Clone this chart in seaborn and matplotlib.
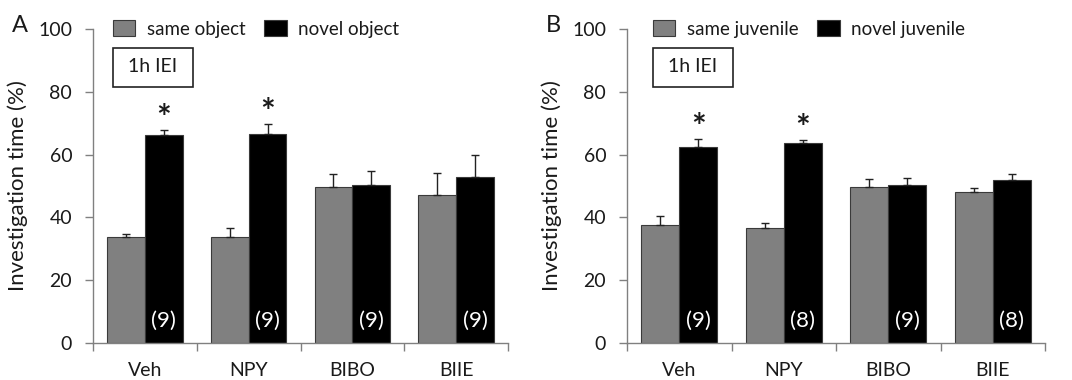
import numpy as np
import pandas as pd
import matplotlib
matplotlib.use("Agg")
import matplotlib.pyplot as plt
import seaborn as sns
from matplotlib.patches import Patch, Rectangle

# ---- data ----
categories = ["Veh", "NPY", "BIBO", "BIIE"]

a_hue = ["same object", "novel object"]
a_same = [33.8, 33.8, 49.7, 47.1]
a_same_err = [1.0, 2.9, 4.1, 6.9]
a_novel = [66.3, 66.7, 50.4, 52.9]
a_novel_err = [1.4, 3.0, 4.4, 7.0]
a_n = ["(9)", "(9)", "(9)", "(9)"]
a_sig = [True, True, False, False]

b_hue = ["same juvenile", "novel juvenile"]
b_same = [37.7, 36.6, 49.8, 48.0]
b_same_err = [2.9, 1.5, 2.3, 1.4]
b_novel = [62.3, 63.6, 50.4, 52.0]
b_novel_err = [2.7, 1.2, 2.3, 1.8]
b_n = ["(9)", "(8)", "(9)", "(8)"]
b_sig = [True, True, False, False]

box_label = "1h IEI"
ylabel = "Investigation time (%)"
yticks = [0, 20, 40, 60, 80, 100]

GRAY = "#808080"
EDGE = "#3a3a3a"
AXC = "#808080"
TXT = "#1a1a1a"

sns.set_style("white")
plt.rcParams["font.family"] = ["Lato", "DejaVu Sans"]

fig = plt.figure(figsize=(10.72, 3.8), dpi=100)


def panel(rect, letter, hue_names, same, same_err, novel, novel_err, ns, sig,
          leg_x, box_x0, box_x1):
    ax = fig.add_axes(rect)
    df = pd.DataFrame({
        "cat": categories * 2,
        "cond": [hue_names[0]] * 4 + [hue_names[1]] * 4,
        "val": list(same) + list(novel),
    })
    sns.barplot(data=df, x="cat", y="val", hue="cond", order=categories,
                hue_order=hue_names, palette=[GRAY, "black"], width=0.73,
                errorbar=None, legend=False, ax=ax, saturation=1,
                edgecolor=EDGE, linewidth=0.8)
    bars = [p for p in ax.patches if p.get_width() > 0]
    bars.sort(key=lambda p: p.get_x())
    vals, errs = [], []
    for i in range(4):
        vals += [same[i], novel[i]]
        errs += [same_err[i], novel_err[i]]
    xs = [p.get_x() + p.get_width() / 2 for p in bars]
    ax.errorbar(xs, vals, yerr=[np.zeros(len(errs)), errs], fmt="none",
                ecolor="#222222", elinewidth=1, capsize=3, capthick=1, zorder=3)
    for i in range(4):
        xn = xs[2 * i + 1]
        ax.text(xn, 7.2, ns[i], color="white", ha="center", va="center",
                fontsize=16)
        if sig[i]:
            ax.text(xn, novel[i] + novel_err[i] + 3.5, "*", ha="center",
                    va="center", fontsize=25, fontweight="bold", color=TXT)

    ax.set_xlim(-0.5, 3.5)
    ax.set_ylim(0, 100)
    ax.set_yticks(yticks)
    ax.set_xticks(range(4))
    ax.set_xticklabels(categories)
    ax.set_xticks(np.arange(-0.5, 4.0, 1.0), minor=True)
    ax.tick_params(axis="x", which="major", length=0, pad=14, labelsize=14,
                   colors=TXT)
    ax.tick_params(axis="x", which="minor", length=6, width=1, color=AXC,
                   direction="out", bottom=True)
    ax.tick_params(axis="y", length=6, width=1, color=AXC, direction="out",
                   left=True, pad=9, labelsize=14, labelcolor=TXT)
    for s in ["top", "right"]:
        ax.spines[s].set_visible(False)
    for s in ["left", "bottom"]:
        ax.spines[s].set_color(AXC)
        ax.spines[s].set_linewidth(1)
    ax.set_xlabel("")
    ax.set_ylabel(ylabel, fontsize=16, color=TXT, labelpad=7)

    handles = [Patch(facecolor=GRAY, edgecolor=EDGE, linewidth=0.8),
               Patch(facecolor="black", edgecolor=EDGE, linewidth=0.8)]
    ax.legend(handles, hue_names, loc="center left",
              bbox_to_anchor=(leg_x, 1.0), ncol=2, frameon=False,
              fontsize=13.5, handlelength=1.2, handleheight=0.9,
              handletextpad=0.6, columnspacing=1.0, borderpad=0,
              borderaxespad=0, labelcolor=TXT)
    tr = ax.get_yaxis_transform()
    ax.add_patch(Rectangle((box_x0, 81.5), box_x1 - box_x0, 12.5,
                           transform=tr, facecolor="white",
                           edgecolor="#222222", linewidth=1.2, zorder=4,
                           clip_on=False))
    ax.text((box_x0 + box_x1) / 2, 87.9, box_label, transform=tr,
            ha="center", va="center", fontsize=14, color=TXT, zorder=5)
    fig.text(rect[0] - 0.0755, 0.932, letter, fontsize=17, color=TXT,
             ha="left", va="center")
    return ax


panel([93 / 1072, 37 / 380, 415 / 1072, 314 / 380], "A", a_hue,
      a_same, a_same_err, a_novel, a_novel_err, a_n, a_sig, 0.048,
      0.048, 0.241)
panel([627 / 1072, 37 / 380, 418 / 1072, 314 / 380], "B", b_hue,
      b_same, b_same_err, b_novel, b_novel_err, b_n, b_sig, 0.062,
      0.062, 0.253)

fig.savefig("out.png", dpi=100)
